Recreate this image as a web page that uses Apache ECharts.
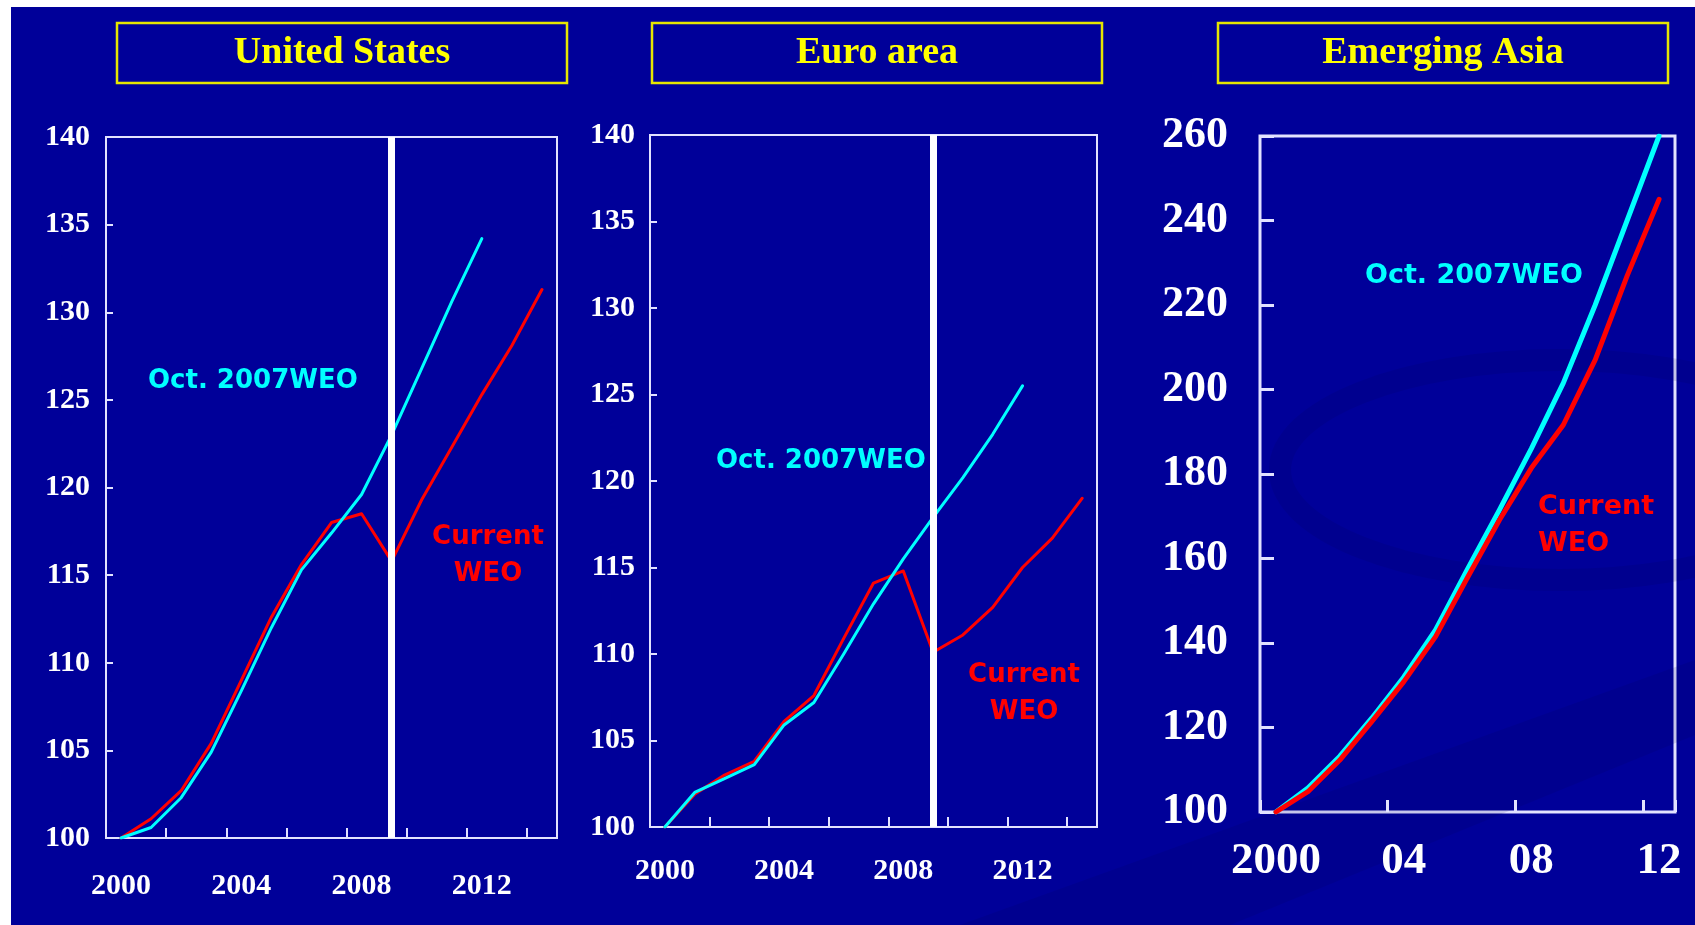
<!DOCTYPE html>
<html>
<head>
<meta charset="utf-8">
<title>Output paths: Oct. 2007 WEO vs current WEO</title>
<script src="https://cdn.jsdelivr.net/npm/echarts@6/dist/echarts.min.js"></script>
<style>
  html, body { margin: 0; padding: 0; background: #ffffff; }
  #chart { width: 1695px; height: 925px; }
</style>
</head>
<body>
<div id="chart"></div>
<script>
// Real output indices, 2000 = 100
const years = ['2000','2001','2002','2003','2004','2005','2006','2007','2008','2009','2010','2011','2012','2013','2014'];
const asiaYears = years.slice(0, 13);
const asiaTickLabels = { '2000': '2000', '2004': '04', '2008': '08', '2012': '12' };

const usOct2007   = [100, 100.6, 102.3, 104.9, 108.4, 112.0, 115.3, 117.4, 119.6, 123.0, 126.8, 130.6, 134.2, null, null];
const usCurrent   = [100, 101.1, 102.7, 105.4, 109.0, 112.6, 115.6, 118.0, 118.5, 115.8, 119.3, 122.3, 125.3, 128.1, 131.3];
const euroOct2007 = [100, 102.0, 102.8, 103.6, 105.9, 107.2, 110.0, 112.9, 115.5, 117.9, 120.2, 122.7, 125.5, null, null];
const euroCurrent = [100, 101.9, 103.0, 103.8, 106.1, 107.6, 110.9, 114.1, 114.8, 110.1, 111.1, 112.7, 115.0, 116.7, 119.0];
const asiaOct2007 = [100, 105.7, 113.2, 122.2, 131.9, 143.1, 157.5, 171.5, 186.0, 201.5, 220.0, 240.0, 260.0];
const asiaCurrent = [100, 104.8, 112.3, 121.4, 130.8, 141.5, 155.5, 169.1, 181.4, 191.6, 207.0, 226.9, 245.0];

const panelTitles = ['United States', 'Euro area', 'Emerging Asia'];
const forecastStart = '2009';

const BG = '#000099';
const SHADE = 'rgba(0, 0, 70, 0.12)';
const FRAME = '#e2e2ff';
const CYAN = '#00ffff';
const RED = '#ff0000';
const YELLOW = '#ffff00';
const SERIF = '"Liberation Serif", "Times New Roman", serif';
const SANS = '"DejaVu Sans", Verdana, sans-serif';

function catAxis(gridIndex, data, o) {
  return {
    gridIndex, type: 'category', data, boundaryGap: true,
    axisLine: { show: false },
    axisTick: { show: true, inside: true, length: o.tickLen, interval: o.tickInterval,
                lineStyle: { color: FRAME, width: o.tickWidth } },
    axisLabel: { interval: 3, margin: o.margin, color: '#ffffff', fontFamily: SERIF,
                 fontWeight: 'bold', fontSize: o.fontSize, formatter: o.formatter },
    splitLine: { show: false }
  };
}
function valAxis(gridIndex, min, max, step, o) {
  return {
    gridIndex, type: 'value', min, max, interval: step,
    axisLine: { show: false },
    axisTick: { show: true, inside: true, length: o.tickLen, lineStyle: { color: FRAME, width: o.tickWidth } },
    axisLabel: { margin: o.margin, color: '#ffffff', fontFamily: SERIF, fontWeight: 'bold', fontSize: o.fontSize },
    splitLine: { show: false }
  };
}
function line(idx, data, color, width, z) {
  return { type: 'line', xAxisIndex: idx, yAxisIndex: idx, data, symbol: 'none', showSymbol: false,
           connectNulls: false, z, lineStyle: { color, width, cap: 'round', join: 'round' } };
}
function divider(idx) {
  return { type: 'line', xAxisIndex: idx, yAxisIndex: idx, data: [], z: 1,
           markLine: { silent: true, symbol: ['none', 'none'], label: { show: false },
                       lineStyle: { color: '#ffffff', width: 7, type: 'solid' },
                       data: [{ xAxis: forecastStart }] } };
}
function titleBox(x, label) {
  return [
    { type: 'rect', shape: { x: x, y: 23, width: 450, height: 60 },
      style: { fill: BG, stroke: '#e6e600', lineWidth: 2.5 }, z: 10 },
    { type: 'text', x: x + 225, y: 53, z: 11,
      style: { text: label, fill: YELLOW, font: 'bold 38px ' + SERIF, align: 'center', verticalAlign: 'middle' } }
  ];
}
function note(x, y, text, color, size, align) {
  return { type: 'text', x, y, z: 12,
           style: { text, fill: color, font: 'bold ' + size + 'px ' + SANS, align: align,
                    verticalAlign: 'middle', lineHeight: 37 } };
}

const option = {
  backgroundColor: BG,
  animation: false,
  grid: [
    { left: 106, top: 137, width: 451, height: 701, show: true, borderColor: FRAME, borderWidth: 2 },
    { left: 650, top: 135, width: 447, height: 692, show: true, borderColor: FRAME, borderWidth: 2 },
    { left: 1260, top: 136, width: 415, height: 676, show: true, borderColor: FRAME, borderWidth: 3 }
  ],
  xAxis: [
    catAxis(0, years, { tickLen: 10, tickWidth: 2, tickInterval: 1, margin: 33, fontSize: 30 }),
    catAxis(1, years, { tickLen: 10, tickWidth: 2, tickInterval: 1, margin: 29, fontSize: 30 }),
    catAxis(2, asiaYears, { tickLen: 12, tickWidth: 3, tickInterval: 3, margin: 27, fontSize: 45,
                            formatter: v => asiaTickLabels[v] || '' })
  ],
  yAxis: [
    valAxis(0, 100, 140, 5, { tickLen: 7, tickWidth: 2, margin: 16, fontSize: 30 }),
    valAxis(1, 100, 140, 5, { tickLen: 7, tickWidth: 2, margin: 15, fontSize: 30 }),
    valAxis(2, 100, 260, 20, { tickLen: 14, tickWidth: 3, margin: 32, fontSize: 44 })
  ],
  series: [
    divider(0),
    line(0, usCurrent, RED, 3, 2),
    line(0, usOct2007, CYAN, 3, 3),
    divider(1),
    line(1, euroCurrent, RED, 3, 2),
    line(1, euroOct2007, CYAN, 3, 3),
    line(2, asiaOct2007, CYAN, 5, 2),
    line(2, asiaCurrent, RED, 5, 3)
  ],
  graphic: [
    // faint backdrop swirls
    { type: 'polygon', z: 0, silent: true,
      shape: { points: [[960, 925], [1695, 660], [1695, 735], [1230, 925]] }, style: { fill: SHADE } },
    { type: 'ellipse', z: 0, silent: true,
      shape: { cx: 1560, cy: 470, rx: 280, ry: 110 }, style: { fill: 'none', stroke: SHADE, lineWidth: 22 } },
    { type: 'rect', shape: { x: 0, y: 0, width: 1695, height: 7 }, style: { fill: '#ffffff' }, z: 20 },
    { type: 'rect', shape: { x: 0, y: 0, width: 11, height: 925 }, style: { fill: '#ffffff' }, z: 20 },
    ...titleBox(117, panelTitles[0]),
    ...titleBox(652, panelTitles[1]),
    ...titleBox(1218, panelTitles[2]),
    note(148, 381, 'Oct. 2007WEO', CYAN, 26, 'left'),
    note(488, 556, 'Current\nWEO', RED, 26, 'center'),
    note(716, 461, 'Oct. 2007WEO', CYAN, 26, 'left'),
    note(1024, 694, 'Current\nWEO', RED, 26, 'center'),
    note(1365, 276, 'Oct. 2007WEO', CYAN, 27, 'left'),
    note(1538, 525, 'Current\nWEO', RED, 27, 'left')
  ]
};

const chart = echarts.init(document.getElementById('chart'), null, { renderer: 'canvas' });
chart.setOption(option);
</script>
</body>
</html>
